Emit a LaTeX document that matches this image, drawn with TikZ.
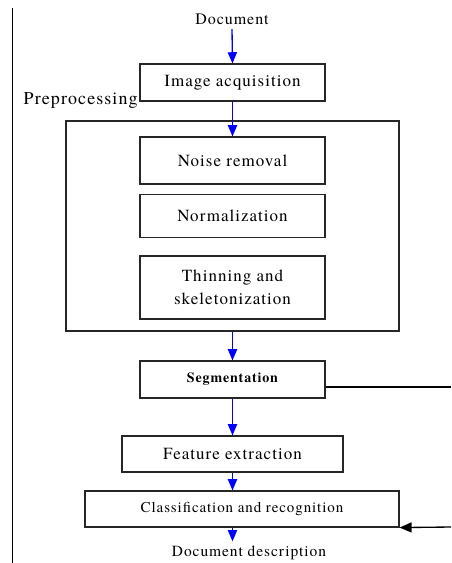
\documentclass[tikz,border=0pt]{standalone}
\usepackage{fontspec}
\setmainfont{Liberation Serif}
\newfontfamily\diagfont[LetterSpace=6, Extension=.otf, UprightFont=*-regular, BoldFont=*-bold]{texgyretermes}
\usetikzlibrary{arrows.meta}

\def\u{0.75}

\begin{document}
\begin{tikzpicture}[x=\u pt,y=-\u pt,
    stage/.style={draw=black!85, line width=0.85pt, rectangle, inner sep=0pt,
      minimum width=\u*185pt, font=\diagfont\fontsize{12.75}{17.25}\selectfont, align=center},
    flow/.style={draw=blue, line width=1pt, -{Triangle[length=8.4pt,width=6.9pt]}},
    back/.style={draw=black, line width=1pt}]
  \useasboundingbox (0,0) rectangle (451,563);
  % page margin line on the left
  \draw[line width=0.75pt] (12,8) -- (12,563);

  % input and output texts
  \node[font=\diagfont\fontsize{12}{14}\selectfont] (doc) at (232,19) {Document};
  \node[font=\diagfont\fontsize{11.6}{14}\selectfont] (desc) at (249,553) {Document description};

  % main stages
  \node[stage, minimum height=\u*37pt] (acq) at (232.5,82.5) {Image acquisition};

  % preprocessing group
  \node[draw=black!85, line width=0.85pt, minimum width=\u*333pt, minimum height=\u*210pt] (prep) at (232.5,226) {};
  \node[anchor=west, font=\diagfont\fontsize{13.5}{16}\selectfont] (preplabel) at (19,101) {Preprocessing};
  \node[stage, minimum height=\u*47pt] (noise) at (232.5,160.5) {Noise removal};
  \node[stage, minimum height=\u*43pt] (norm) at (232.5,216) {Normalization};
  \node[stage, minimum height=\u*63pt] (thin) at (232.5,287.5) {Thinning and\\skeletonization};

  \node[stage, minimum height=\u*37pt, font=\diagfont\bfseries\fontsize{10.5}{12}\selectfont] (seg) at (232.5,379.5) {Segmentation};
  \node[stage, minimum width=\u*221pt, minimum height=\u*36pt] (feat) at (232.5,454) {Feature extraction};
  \node[stage, minimum width=\u*314pt, minimum height=\u*36pt, font=\diagfont\fontsize{11.25}{13}\selectfont] (cls) at (242,509) {Classification and recognition};

  % blue arrows
  \draw[flow] (doc.south) -- (acq.north);
  \draw[flow] (acq.south) -- (noise.north);
  \draw[flow] (prep.south) -- (seg.north);
  \draw[flow] (seg.south) -- (feat.north);
  \draw[flow] (feat.south) -- (feat.south |- cls.north);
  \draw[flow] (feat.south |- cls.south) -- (feat.south |- desc.north);

  % feedback lines on the right
  \coordinate (segright) at (451,387);
  \coordinate (fbin) at (451,527);
  \draw[back] (seg.east |- segright) -- (segright);
  \draw[back, -{Triangle[length=9pt,width=7.5pt]}] (fbin) -- (cls.south east);
\end{tikzpicture}
\end{document}
